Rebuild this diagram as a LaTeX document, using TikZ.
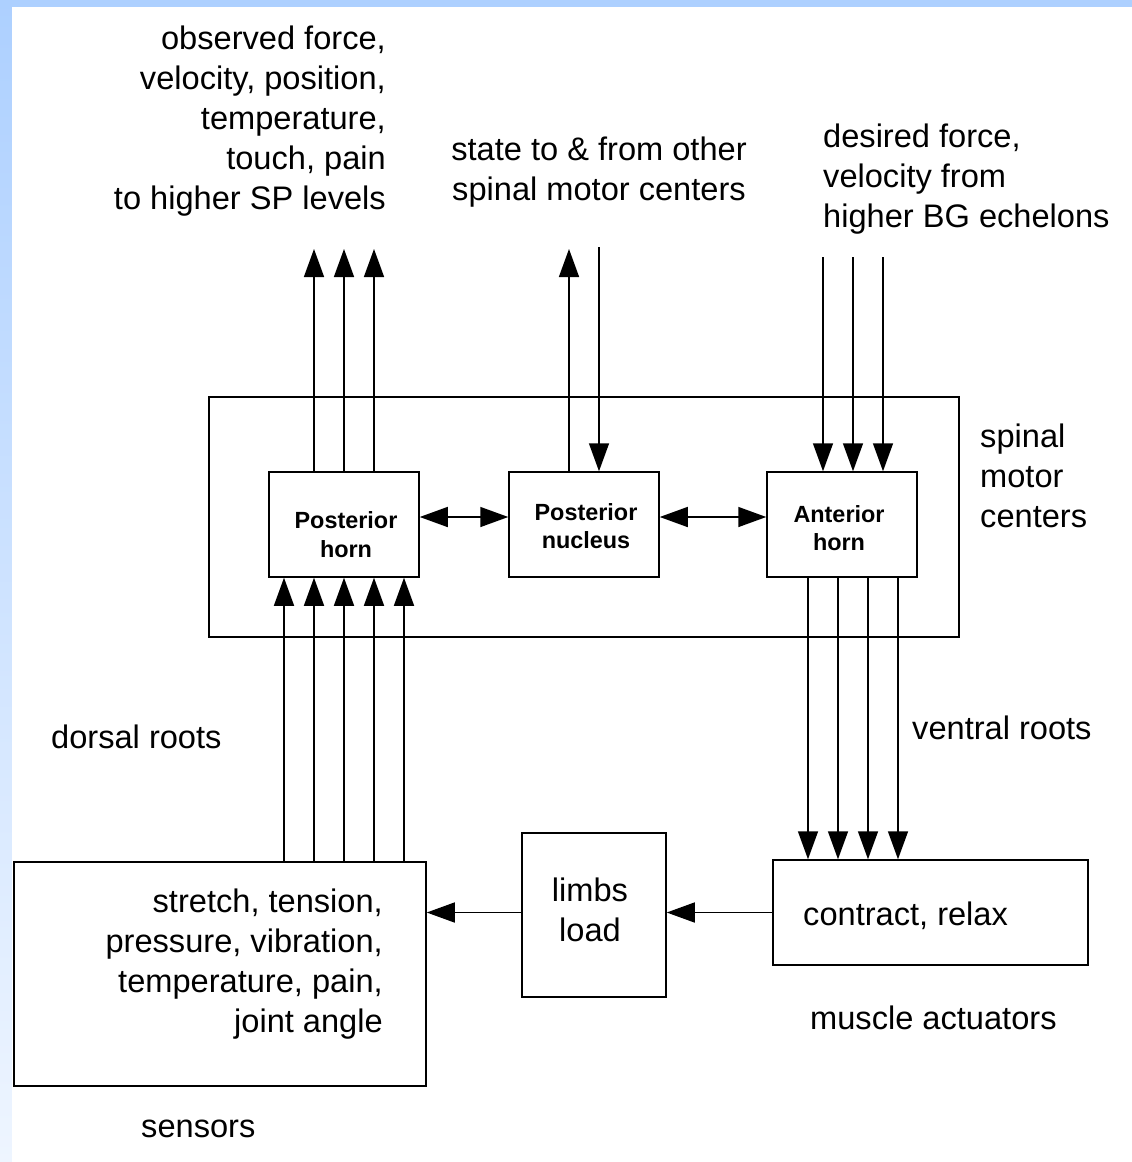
\documentclass[tikz,border=0pt]{standalone}
\usepackage{fontspec}
\setmainfont{Liberation Sans}
\usetikzlibrary{arrows.meta}
\definecolor{bandtop}{RGB}{173,208,255}
\definecolor{bandbot}{RGB}{238,245,255}

\tikzset{
  box/.style={draw, line width=1.5pt, inner sep=0pt},
  lbl/.style={inner sep=0pt, font=\fontsize{32.6}{40}\selectfont},
  boldlbl/.style={inner sep=0pt, align=center, font=\fontsize{23.4}{28.5}\selectfont\bfseries},
  conn/.style={line width=1.5pt, -{Triangle[length=28pt,width=20pt]}},
  dconn/.style={line width=1.5pt, {Triangle[length=28pt,width=20pt]}-{Triangle[length=28pt,width=20pt]}},
}

\begin{document}
\begin{tikzpicture}[x=1pt,y=-1pt]
% frame: blue bands on top and left, white page
\useasboundingbox (0,0) rectangle (1132,1162);
\shade[top color=bandtop, bottom color=bandbot] (0,0) rectangle (12,1162);
\fill[bandtop] (0,0) rectangle (1132,7);
\fill[white] (12,7) rectangle (1132,1162);

% spinal motor centers enclosure
\node[box, minimum width=750pt, minimum height=240pt] (smc) at (584,517) {};

% inner blocks
\node[box, minimum width=150pt, minimum height=105pt] (ph) at (344,524.5) {};
\node[box, minimum width=150pt, minimum height=105pt] (pn) at (584,524.5) {};
\node[box, minimum width=150pt, minimum height=105pt] (ah) at (842,524.5) {};
\node[boldlbl] (phtxt) at (346,534.5) {Posterior\\horn};
\node[boldlbl] (pntxt) at (586,526) {Posterior\\nucleus};
\node[boldlbl] (ahtxt) at (839,528) {Anterior\\horn};

% lower blocks
\node[box, minimum width=412pt, minimum height=224pt] (sens) at (220,974) {};
\node[box, minimum width=144pt, minimum height=164pt] (limbs) at (594,915) {};
\node[box, minimum width=315pt, minimum height=105pt] (cr) at (930.5,912.5) {};
\node[lbl, align=right, anchor=east] (senstxt) at (383,964) {stretch, tension,\\pressure, vibration,\\temperature, pain,\\joint angle};
\node[lbl, align=center] (limbstxt) at (590,909.5) {limbs\\load};
\node[lbl, anchor=base west] (crtxt) at (803,925) {contract, relax};

% free ends of the open connectors
\coordinate (upout) at (344,249);
\coordinate (pnin) at (599,247);
\coordinate (ahin) at (842,257);

% outputs to higher levels
\foreach \dx in {-30,0,30}
  \draw[conn] ([xshift=\dx pt]ph.north) -- ([xshift=\dx pt]ph.north |- upout);
\draw[conn] ([xshift=-15pt]pn.north) -- ([xshift=-15pt]pn.north |- upout);
\draw[conn] (pnin) -- (pnin |- pn.north);
\foreach \dx in {-19,11,41}
  \draw[conn] ([xshift=\dx pt]ah.north |- ahin) -- ([xshift=\dx pt]ah.north);

% lateral exchange
\draw[dconn] ([yshift=7.5pt]ph.east) -- ([yshift=7.5pt]pn.west);
\draw[dconn] ([yshift=7.5pt]pn.east) -- ([yshift=7.5pt]ah.west);

% dorsal roots
\foreach \dx in {-60,-30,0,30,60}
  \draw[conn] ([xshift=\dx pt]ph.south |- sens.north) -- ([xshift=\dx pt]ph.south);
% ventral roots
\foreach \dx in {-34,-4,26,56}
  \draw[conn] ([xshift=\dx pt]ah.south) -- ([xshift=\dx pt]ah.south |- cr.north);

% feedback through the limbs
\draw[conn] (cr.west) -- (cr.west -| limbs.east);
\draw[conn] (limbs.west |- cr.west) -- (cr.west -| sens.east);

% labels
\node[lbl, align=right, anchor=east] (obs) at (386,121.5) {observed force,\\velocity, position,\\temperature,\\touch, pain\\to higher SP levels};
\node[lbl, align=center] (state) at (599,172) {state to \& from other\\spinal motor centers};
\node[lbl, align=left, anchor=west] (des) at (823,179) {desired force,\\velocity from\\higher BG echelons};
\node[lbl, align=left, anchor=west] (smclbl) at (980,475.5) {spinal\\motor\\centers};
\node[lbl, anchor=base west] (dorsal) at (51,748) {dorsal roots};
\node[lbl, anchor=base west] (ventral) at (912,739) {ventral roots};
\node[lbl, anchor=base west] (senslbl) at (141,1137) {sensors};
\node[lbl, anchor=base west] (musc) at (810,1029) {muscle actuators};
\end{tikzpicture}
\end{document}
